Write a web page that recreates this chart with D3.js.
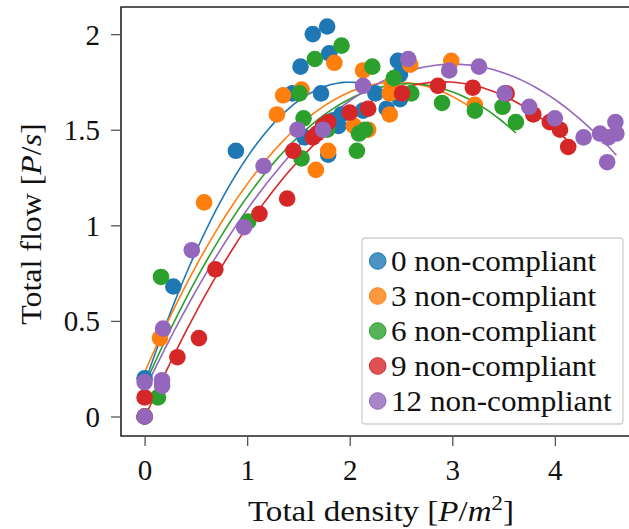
<!DOCTYPE html>
<html>
<head>
<meta charset="utf-8">
<script src="https://cdn.jsdelivr.net/npm/d3@7"></script>
<style>
  body { margin: 0; background: #fff; }
  svg { display: block; }
  text { font-family: "Liberation Serif", "Times New Roman", serif; fill: #111; }
</style>
</head>
<body>
<svg id="chart" width="629" height="529"></svg>
<script>
// Series labels and colours
const seriesNames = ["0 non-compliant", "3 non-compliant", "6 non-compliant", "9 non-compliant", "12 non-compliant"];
const seriesColors = ["#1f77b4", "#ff7f0e", "#2ca02c", "#d62728", "#9467bd"];

// Measured (density, flow) pairs for each group
const density0 = [0, 0, 0.28, 0.89, 1.52, 1.64, 1.78, 1.80, 1.72, 1.44, 1.56, 1.79, 1.89, 1.92, 2.13, 2.25, 2.36, 2.47, 2.49, 2.49, 1.84];
const flow0    = [0, 0.20, 0.68, 1.39, 1.83, 2.00, 2.04, 1.90, 1.69, 1.69, 1.46, 1.37, 1.52, 1.58, 1.60, 1.69, 1.61, 1.86, 1.79, 1.66, 1.55];

const density3 = [0, 0.15, 0.58, 1.29, 1.35, 1.53, 1.85, 1.79, 1.67, 2.13, 2.04, 2.18, 2.39, 2.39, 2.59, 2.99, 3.22, 2.41];
const flow3    = [0, 0.41, 1.12, 1.58, 1.68, 1.71, 1.85, 1.39, 1.29, 1.81, 1.52, 1.50, 1.69, 1.58, 1.84, 1.86, 1.63, 1.74];

const density6 = [0, 0.13, 0.16, 1.01, 1.51, 1.55, 1.53, 1.66, 1.92, 1.78, 2.07, 2.09, 2.15, 2.22, 2.43, 2.60, 2.90, 3.22, 3.49, 3.62];
const flow6    = [0, 0.10, 0.73, 1.02, 1.69, 1.56, 1.35, 1.87, 1.94, 1.50, 1.39, 1.48, 1.50, 1.83, 1.77, 1.69, 1.64, 1.60, 1.62, 1.54];

const density9 = [0, 0, 0.32, 0.53, 0.69, 1.12, 1.39, 1.45, 1.68, 1.79, 1.64, 1.74, 2.00, 2.18, 2.51, 2.86, 3.20, 3.53, 3.79, 3.95, 4.05, 4.13];
const flow9    = [0, 0.10, 0.31, 0.41, 0.77, 1.06, 1.14, 1.39, 1.48, 1.54, 1.46, 1.52, 1.59, 1.61, 1.69, 1.73, 1.72, 1.69, 1.58, 1.54, 1.50, 1.41];

const density12 = [0, 0, 0.17, 0.17, 0.18, 0.46, 0.97, 1.16, 1.49, 1.74, 2.13, 2.57, 2.97, 3.26, 3.51, 3.75, 4.00, 4.28, 4.44, 4.52, 4.59, 4.60, 4.51];
const flow12    = [0, 0.18, 0.19, 0.16, 0.46, 0.87, 0.99, 1.31, 1.50, 1.50, 1.73, 1.87, 1.81, 1.83, 1.69, 1.62, 1.56, 1.46, 1.48, 1.46, 1.54, 1.48, 1.33];

// Axis ticks
const xTicks = [0, 1, 2, 3, 4];
const yTicks = [0, 0.5, 1, 1.5, 2];
const yTickLabels = ["0", "0.5", "1", "1.5", "2"];

const groups = [
  { density: density0, flow: flow0 },
  { density: density3, flow: flow3 },
  { density: density6, flow: flow6 },
  { density: density9, flow: flow9 },
  { density: density12, flow: flow12 }
].map((g, i) => ({ ...g, name: seriesNames[i], color: seriesColors[i] }));

// Least-squares quadratic fit flow = c0 + c1*d + c2*d^2
function quadFit(xs, ys) {
  const S = [0, 0, 0, 0, 0], T = [0, 0, 0];
  xs.forEach((x, i) => {
    let p = 1;
    for (let k = 0; k < 5; k++) { S[k] += p; if (k < 3) T[k] += p * ys[i]; p *= x; }
  });
  const A = [[S[0], S[1], S[2], T[0]], [S[1], S[2], S[3], T[1]], [S[2], S[3], S[4], T[2]]];
  for (let c = 0; c < 3; c++) {
    let piv = c;
    for (let r = c + 1; r < 3; r++) if (Math.abs(A[r][c]) > Math.abs(A[piv][c])) piv = r;
    [A[c], A[piv]] = [A[piv], A[c]];
    for (let r = 0; r < 3; r++) {
      if (r === c) continue;
      const f = A[r][c] / A[c][c];
      for (let k = c; k < 4; k++) A[r][k] -= f * A[c][k];
    }
  }
  return [A[0][3] / A[0][0], A[1][3] / A[1][1], A[2][3] / A[2][2]];
}

const svg = d3.select("#chart");
const plot = { left: 121, top: 7, bottom: 436, right: 640 };

const x = d3.scaleLinear().domain([-0.23, 4.83]).range([plot.left, plot.right]);
const y = d3.scaleLinear().domain([-0.102, 2.142]).range([plot.bottom, plot.top]);

// Fitted curves, under the markers
const line = d3.line().x(d => x(d[0])).y(d => y(d[1]));
groups.forEach(g => {
  const c = quadFit(g.density, g.flow);
  const [lo, hi] = d3.extent(g.density);
  const pts = d3.range(0, 101).map(k => {
    const d = lo + (hi - lo) * k / 100;
    return [d, c[0] + c[1] * d + c[2] * d * d];
  });
  svg.append("path").datum(pts)
    .attr("d", line).attr("fill", "none")
    .attr("stroke", g.color).attr("stroke-width", 1.6);
});

// Scatter markers
groups.forEach(g => {
  svg.append("g").selectAll("circle")
    .data(g.density.map((d, i) => [d, g.flow[i]]))
    .join("circle")
    .attr("cx", d => x(d[0])).attr("cy", d => y(d[1]))
    .attr("r", 8.3).attr("fill", g.color);
});

// Spines: left, bottom and top (the right edge of the axes box lies beyond the canvas)
svg.append("path")
  .attr("d", `M${plot.right},${plot.top}H${plot.left}V${plot.bottom}H${plot.right}`)
  .attr("fill", "none").attr("stroke", "#222").attr("stroke-width", 1.6);

// Axes
const xAxis = d3.axisBottom(x).tickValues(xTicks).tickFormat(d3.format("d")).tickSize(10).tickPadding(13);
const yAxis = d3.axisLeft(y).tickValues(yTicks).tickFormat((d, i) => yTickLabels[i]).tickSize(10).tickPadding(11);

const gx = svg.append("g").attr("transform", `translate(0,${plot.bottom})`).call(xAxis);
const gy = svg.append("g").attr("transform", `translate(${plot.left},0)`).call(yAxis);
[gx, gy].forEach(g => {
  g.select(".domain").remove();
  g.selectAll(".tick line").attr("stroke", "#555").attr("stroke-width", 1.3);
  g.selectAll(".tick text").attr("font-size", 29).attr("fill", "#111")
    .attr("font-family", "'Liberation Serif', serif");
});
gy.selectAll(".tick text").attr("dy", "0.34em");

// Axis titles (widened slightly to the proportions of the typeset labels)
const xl = svg.append("g").attr("transform", "translate(381,521) scale(1.14,1)")
  .append("text").attr("text-anchor", "middle").attr("font-size", 29);
xl.append("tspan").text("Total density [");
xl.append("tspan").attr("font-style", "italic").text("P");
xl.append("tspan").text("/");
xl.append("tspan").attr("font-style", "italic").text("m");
xl.append("tspan").attr("font-size", 20).attr("dy", -11).text("2");
xl.append("tspan").attr("dy", 11).text("]");

const yl = svg.append("g").attr("transform", "translate(41,224) rotate(-90) scale(1.1,1)")
  .append("text").attr("text-anchor", "middle").attr("font-size", 29);
yl.append("tspan").text("Total flow [");
yl.append("tspan").attr("font-style", "italic").text("P");
yl.append("tspan").text("/");
yl.append("tspan").attr("font-style", "italic").text("s");
yl.append("tspan").text("]");

// Legend
const legend = svg.append("g");
legend.append("rect").attr("x", 362).attr("y", 238).attr("width", 261).attr("height", 186)
  .attr("rx", 3).attr("fill", "#fff").attr("fill-opacity", 0.85)
  .attr("stroke", "#d0d0d0").attr("stroke-width", 1.3);
groups.forEach((g, i) => {
  const cy = 261 + i * 35;
  legend.append("circle").attr("cx", 377.7).attr("cy", cy).attr("r", 8.3)
    .attr("fill", g.color).attr("fill-opacity", 0.8)
    .attr("stroke", g.color).attr("stroke-width", 1);
  legend.append("g").attr("transform", `translate(391,${cy}) scale(1.075,1)`)
    .append("text").attr("dy", "0.34em").attr("font-size", 29).text(g.name);
});
</script>
</body>
</html>
